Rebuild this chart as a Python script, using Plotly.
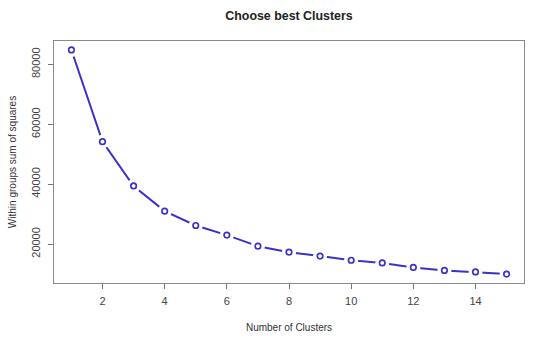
import plotly.graph_objects as go

# Within-cluster sum of squares for k = 1..15 (elbow plot)
clusters = list(range(1, 16))
wss = [84800, 54200, 39400, 31000, 26200, 23000, 19300, 17300,
       16000, 14600, 13700, 12200, 11200, 10700, 10000]

x_ticks = [2, 4, 6, 8, 10, 12, 14]
y_ticks = [20000, 40000, 60000, 80000]

line_color = "#3a32c8"
font_family = "Liberation Sans, Arial, sans-serif"

fig = go.Figure()

# connecting line
fig.add_trace(go.Scatter(
    x=clusters, y=wss, mode="lines",
    line=dict(color=line_color, width=2),
    hoverinfo="skip", showlegend=False,
))
# white halo around each point so the line breaks near the markers
fig.add_trace(go.Scatter(
    x=clusters, y=wss, mode="markers",
    marker=dict(symbol="circle", size=14, color="white",
                line=dict(width=0)),
    hoverinfo="skip", showlegend=False,
))
# open circle markers
fig.add_trace(go.Scatter(
    x=clusters, y=wss, mode="markers",
    marker=dict(symbol="circle-open", size=5.5, color=line_color,
                line=dict(width=1.7, color=line_color)),
    showlegend=False,
))

xmin, xmax = min(clusters), max(clusters)
ymin, ymax = min(wss), max(wss)
xpad = (xmax - xmin) * 0.04
ypad = (ymax - ymin) * 0.04

axis_common = dict(
    showline=True, mirror=True, linecolor="#8a8a8a", linewidth=1,
    showgrid=False, zeroline=False,
    ticks="outside", ticklen=5, tickcolor="#777", tickwidth=1,
    tickfont=dict(family=font_family, size=11, color="#444"),
)

fig.update_layout(
    width=533, height=340,
    margin=dict(l=54, r=9, t=41, b=57),
    paper_bgcolor="white", plot_bgcolor="white",
    title=dict(text="<b>Choose best Clusters</b>", x=(54 + 524) / 2 / 533,
               xanchor="center", y=1 - 16 / 340, yanchor="middle",
               font=dict(family=font_family, size=12.4, color="#222")),
    xaxis=dict(axis_common, range=[xmin - xpad, xmax + xpad],
               tickvals=x_ticks, ticktext=[str(v) for v in x_ticks],
               ticklabelstandoff=3,
               title=dict(text="Number of Clusters", standoff=17,
                          font=dict(family=font_family, size=10, color="#333"))),
    yaxis=dict(axis_common, range=[ymin - ypad, ymax + ypad],
               tickvals=y_ticks, ticktext=[str(v) for v in y_ticks],
               tickangle=-90, ticklabelstandoff=4,
               title=dict(text="Within groups sum of squares", standoff=11,
                          font=dict(family=font_family, size=10, color="#333"))),
)

fig.write_html("out.html")
